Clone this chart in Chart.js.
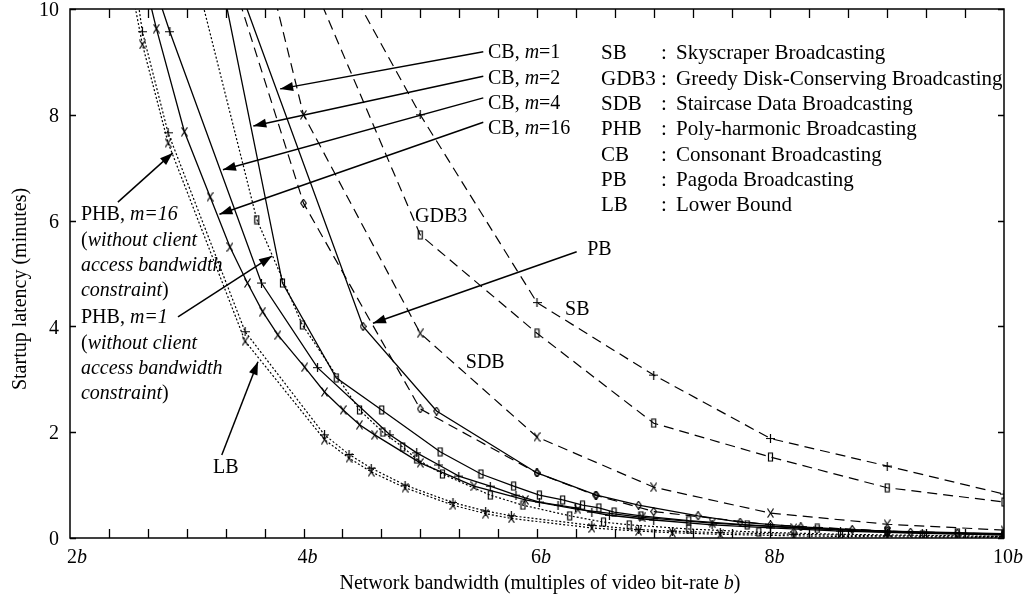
<!DOCTYPE html>
<html>
<head>
<meta charset="utf-8">
<script src="https://cdn.jsdelivr.net/npm/chart.js@4.4.0/dist/chart.umd.min.js"></script>
<style>
  html, body { margin: 0; padding: 0; background: #fff; }
</style>
</head>
<body>
<canvas id="latency" width="1032" height="597"></canvas>
<script>
// Startup latency (minutes) against network bandwidth (multiples of b)

// dashed curves
const sbX = [4, 5, 6, 7, 8, 9, 10];
const sbY = [12.0, 8.0, 4.45, 3.08, 1.88, 1.36, 0.83];

const gdbX = [4, 5, 6, 7, 8, 9, 10];
const gdbY = [10.9, 5.73, 3.87, 2.17, 1.53, 0.95, 0.68];

const sdbX = [3.5, 4, 5, 6, 7, 8, 9, 10];
const sdbY = [12.5, 8.0, 3.87, 1.91, 0.96, 0.47, 0.26, 0.15];

const pbX = [3.33, 4, 5, 6, 6.5, 7, 8, 9, 10];
const pbY = [11.0, 6.33, 2.44, 1.23, 0.81, 0.5, 0.25, 0.13, 0.07];

// solid curves (CB)
const cb1X = [3.4, 4.51, 5.14, 6.0, 6.51, 6.87, 7.38, 7.74, 8.26, 8.7, 9.2, 9.6, 10];
const cb1Y = [10.7, 4.0, 2.4, 1.23, 0.81, 0.62, 0.42, 0.30, 0.21, 0.16, 0.11, 0.09, 0.07];

const cb2X = [3.2, 3.82, 4.28, 4.67, 5.17, 5.52, 5.8, 6.02, 6.22, 6.39, 6.53, 6.66, 6.89, 7.3, 7.8, 8.4, 9.0, 9.6, 10];
const cb2Y = [11.6, 4.82, 3.03, 2.42, 1.63, 1.21, 0.98, 0.81, 0.72, 0.62, 0.57, 0.49, 0.42, 0.33, 0.25, 0.18, 0.13, 0.1, 0.08];

const cb4X = [2.7, 2.855, 3.64, 4.12, 4.74, 4.97, 5.16, 5.33, 5.6, 5.82, 6.02, 6.18, 6.33, 6.47, 6.62, 7.0, 7.5, 8.0, 8.6, 9.3, 10];
const cb4Y = [10.6, 9.57, 4.82, 3.22, 1.95, 1.61, 1.38, 1.17, 0.98, 0.81, 0.68, 0.62, 0.57, 0.49, 0.43, 0.34, 0.25, 0.19, 0.13, 0.09, 0.06];

const cb16X = [2.6, 2.74, 2.98, 3.2, 3.37, 3.52, 3.65, 3.78, 4.01, 4.18, 4.34, 4.48, 4.61, 5.0, 5.46, 5.9, 6.35, 6.9, 7.5, 8.2, 9.0, 10];
const cb16Y = [10.9, 9.63, 7.68, 6.45, 5.5, 4.82, 4.28, 3.84, 3.23, 2.76, 2.42, 2.14, 1.95, 1.42, 0.98, 0.72, 0.54, 0.39, 0.28, 0.19, 0.11, 0.06];

// dotted curves
const phb1X = [3.0, 3.6, 3.99, 4.48, 4.68, 4.85, 4.97, 5.19, 5.6, 5.88, 6.28, 6.57, 6.79, 7.3, 7.9, 8.6, 9.3, 10];
const phb1Y = [11.3, 6.02, 4.03, 2.42, 2.0, 1.72, 1.49, 1.21, 0.81, 0.62, 0.42, 0.30, 0.25, 0.17, 0.11, 0.07, 0.05, 0.03];

const phb16X = [2.5, 2.62, 2.84, 3.5, 4.18, 4.39, 4.58, 4.87, 5.28, 5.56, 5.78, 6.47, 6.87, 7.16, 7.57, 8.2, 9.0, 10];
const phb16Y = [11.4, 9.57, 7.66, 3.9, 1.95, 1.58, 1.32, 1.0, 0.67, 0.51, 0.42, 0.24, 0.16, 0.13, 0.1, 0.07, 0.04, 0.03];

const lbX = [2.5, 2.62, 2.84, 3.5, 4.18, 4.39, 4.58, 4.87, 5.28, 5.56, 5.78, 6.47, 6.87, 7.16, 7.57, 8.2, 9.0, 10];
const lbY = [10.7, 9.33, 7.47, 3.72, 1.86, 1.51, 1.25, 0.95, 0.62, 0.46, 0.37, 0.19, 0.13, 0.1, 0.07, 0.04, 0.02, 0.01];

// axes
const xLabelTicks = [2, 4, 6, 8, 10];
const yLabelTicks = [0, 2, 4, 6, 8, 10];
const xMinorStep = 1 / 3;

const legendAbbr = ['SB', 'GDB3', 'SDB', 'PHB', 'CB', 'PB', 'LB'];
const legendName = ['Skyscraper Broadcasting', 'Greedy Disk-Conserving Broadcasting',
  'Staircase Data Broadcasting', 'Poly-harmonic Broadcasting', 'Consonant Broadcasting',
  'Pagoda Broadcasting', 'Lower Bound'];

const SERIF = '"Liberation Serif", "Times New Roman", serif';
const FS = 20;
const LEGEND_FS = 21;

// little marker bitmaps
function marker(w, h, draw) {
  const c = document.createElement('canvas');
  c.width = w; c.height = h;
  const g = c.getContext('2d');
  g.strokeStyle = '#000';
  g.lineWidth = 1.2;
  g.beginPath();
  draw(g);
  g.stroke();
  return c;
}
const mPlus = marker(9, 9, g => { g.moveTo(4.5, 0); g.lineTo(4.5, 9); g.moveTo(0, 4.5); g.lineTo(9, 4.5); });
const mCross = marker(7, 10, g => { g.moveTo(0.5, 0.5); g.lineTo(6.5, 9.5); g.moveTo(6.5, 0.5); g.lineTo(0.5, 9.5); });
const mBox = marker(7, 10, g => { g.rect(1.5, 1, 4, 8); });
const mDiamond = marker(7, 9, g => { g.moveTo(3.5, 0.5); g.lineTo(6.3, 4.5); g.lineTo(3.5, 8.5); g.lineTo(0.7, 4.5); g.closePath(); });

const DASH = [10, 6];
const DOT = [2, 2];

function series(label, xs, ys, dash, pt) {
  return {
    label,
    data: xs.map((x, i) => ({ x, y: ys[i] })),
    borderColor: '#000',
    backgroundColor: '#000',
    borderWidth: dash.length ? 1.2 : 1.3,
    borderDash: dash,
    pointStyle: pt,
    pointRadius: 3,
    tension: 0,
    fill: false
  };
}

function richWidth(ctx, parts) {
  let w = 0;
  for (const [t, it] of parts) {
    ctx.font = (it ? 'italic ' : '') + FS + 'px ' + SERIF;
    w += ctx.measureText(t).width;
  }
  return w;
}
function rich(ctx, parts, x, y) {
  let cx = x;
  for (const [t, it] of parts) {
    ctx.font = (it ? 'italic ' : '') + FS + 'px ' + SERIF;
    ctx.fillText(t, cx, y);
    cx += ctx.measureText(t).width;
  }
}
function arrow(ctx, x1, y1, x2, y2) {
  ctx.beginPath();
  ctx.moveTo(x1, y1);
  ctx.lineTo(x2, y2);
  ctx.stroke();
  const a = Math.atan2(y2 - y1, x2 - x1);
  const len = 13, hw = 4.5;
  ctx.beginPath();
  ctx.moveTo(x2, y2);
  ctx.lineTo(x2 - len * Math.cos(a) + hw * Math.sin(a), y2 - len * Math.sin(a) - hw * Math.cos(a));
  ctx.lineTo(x2 - len * Math.cos(a) - hw * Math.sin(a), y2 - len * Math.sin(a) + hw * Math.cos(a));
  ctx.closePath();
  ctx.fill();
}

const decorations = {
  id: 'decorations',
  afterDatasetsDraw(chart) {
    const { ctx, chartArea: ca } = chart;
    const xs = chart.scales.x, ys = chart.scales.y;
    const px = v => xs.getPixelForValue(v);
    const py = v => ys.getPixelForValue(v);

    ctx.save();
    ctx.strokeStyle = '#000';
    ctx.fillStyle = '#000';
    ctx.setLineDash([]);

    // frame
    ctx.lineWidth = 1.5;
    ctx.strokeRect(ca.left, ca.top, ca.right - ca.left, ca.bottom - ca.top);

    // inward ticks
    ctx.lineWidth = 1.3;
    ctx.beginPath();
    for (let v = 2 + xMinorStep; v < 10 - 0.01; v += xMinorStep) {
      const x = Math.round(px(v)) + 0.5;
      ctx.moveTo(x, ca.bottom); ctx.lineTo(x, ca.bottom - 9);
      ctx.moveTo(x, ca.top); ctx.lineTo(x, ca.top + 9);
    }
    for (const v of yLabelTicks) {
      const y = Math.round(py(v)) + 0.5;
      ctx.moveTo(ca.left, y); ctx.lineTo(ca.left + 6, y);
      ctx.moveTo(ca.right, y); ctx.lineTo(ca.right - 6, y);
    }
    ctx.stroke();

    // tick labels
    ctx.textBaseline = 'middle';
    ctx.textAlign = 'right';
    ctx.font = FS + 'px ' + SERIF;
    for (const v of yLabelTicks) ctx.fillText(String(v), ca.left - 11, py(v) + 2);
    ctx.textAlign = 'left';
    ctx.textBaseline = 'alphabetic';
    for (const v of xLabelTicks) {
      const parts = [[String(v), false], ['b', true]];
      const w = richWidth(ctx, parts);
      const cx = v === 2 ? px(v) + 7 : px(v) + 4;
      rich(ctx, parts, cx - w / 2, ca.bottom + 25);
    }

    // axis titles
    const xt = [['Network bandwidth (multiples of video bit-rate ', false], ['b', true], [')', false]];
    rich(ctx, xt, 540 - richWidth(ctx, xt) / 2, 589);
    ctx.save();
    ctx.translate(26, 289);
    ctx.rotate(-Math.PI / 2);
    ctx.font = FS + 'px ' + SERIF;
    ctx.textAlign = 'center';
    ctx.fillText('Startup latency (minutes)', 0, 0);
    ctx.restore();

    // curve labels with arrows
    ctx.textBaseline = 'middle';
    ctx.lineWidth = 1.5;
    const cbLabels = [
      { m: '1', ty: 9.17, ay: 9.19, tip: [3.80, 8.49] },
      { m: '2', ty: 8.68, ay: 8.73, tip: [3.57, 7.79] },
      { m: '4', ty: 8.20, ay: 8.32, tip: [3.31, 6.96] },
      { m: '16', ty: 7.73, ay: 7.86, tip: [3.28, 6.12] }
    ];
    for (const l of cbLabels) {
      rich(ctx, [['CB, ', false], ['m', true], ['=' + l.m, false]], px(5.58), py(l.ty));
      arrow(ctx, px(5.54), py(l.ay), px(l.tip[0]), py(l.tip[1]));
    }

    // legend block
    const lx = px(6.548);
    ctx.font = LEGEND_FS + 'px ' + SERIF;
    legendAbbr.forEach((a, i) => {
      const y = py(9.17) + 1 + i * 25.3;
      ctx.fillText(a, lx, y);
      ctx.fillText(':', lx + 60, y);
      ctx.fillText(legendName[i], lx + 75, y);
    });

    ctx.font = FS + 'px ' + SERIF;
    ctx.fillText('GDB3', px(4.955), py(6.07));
    ctx.fillText('SB', px(6.24), py(4.31));
    ctx.fillText('SDB', px(5.39), py(3.31));
    ctx.fillText('PB', px(6.43), py(5.44));
    arrow(ctx, px(6.34), py(5.41), px(4.595), py(4.06));

    const lineGap = 25.3;
    const phbBlock = (m, top) => {
      const x = px(2.094), y0 = py(top);
      rich(ctx, [['PHB, ', false], ['m=' + m, true]], x, y0);
      rich(ctx, [['(', false], ['without client', true]], x, y0 + lineGap);
      rich(ctx, [['access bandwidth', true]], x, y0 + 2 * lineGap);
      rich(ctx, [['constraint', true], [')', false]], x, y0 + 3 * lineGap);
    };
    phbBlock('16', 6.106);
    arrow(ctx, px(2.41), py(6.35), px(2.88), py(7.28));
    phbBlock('1', 4.159);
    arrow(ctx, px(2.925), py(4.18), px(3.73), py(5.33));

    ctx.font = FS + 'px ' + SERIF;
    ctx.fillText('LB', px(3.225), py(1.32));
    arrow(ctx, px(3.30), py(1.57), px(3.61), py(3.33));

    ctx.restore();
  }
};

new Chart(document.getElementById('latency'), {
  type: 'line',
  data: {
    datasets: [
      series('SB', sbX, sbY, DASH, mPlus),
      series('GDB3', gdbX, gdbY, DASH, mBox),
      series('SDB', sdbX, sdbY, DASH, mCross),
      series('PB', pbX, pbY, DASH, mDiamond),
      series('CB, m=1', cb1X, cb1Y, [], mDiamond),
      series('CB, m=2', cb2X, cb2Y, [], mBox),
      series('CB, m=4', cb4X, cb4Y, [], mPlus),
      series('CB, m=16', cb16X, cb16Y, [], mCross),
      series('PHB, m=1', phb1X, phb1Y, DOT, mBox),
      series('PHB, m=16', phb16X, phb16Y, DOT, mPlus),
      series('LB', lbX, lbY, DOT, mCross)
    ]
  },
  options: {
    responsive: false,
    animation: false,
    devicePixelRatio: 1,
    layout: { padding: { left: 70, right: 28, top: 9, bottom: 59 } },
    plugins: { legend: { display: false }, tooltip: { enabled: false } },
    scales: {
      x: { type: 'linear', min: 2, max: 10, display: false },
      y: { type: 'linear', min: 0, max: 10, display: false }
    }
  },
  plugins: [decorations]
});
</script>
</body>
</html>
